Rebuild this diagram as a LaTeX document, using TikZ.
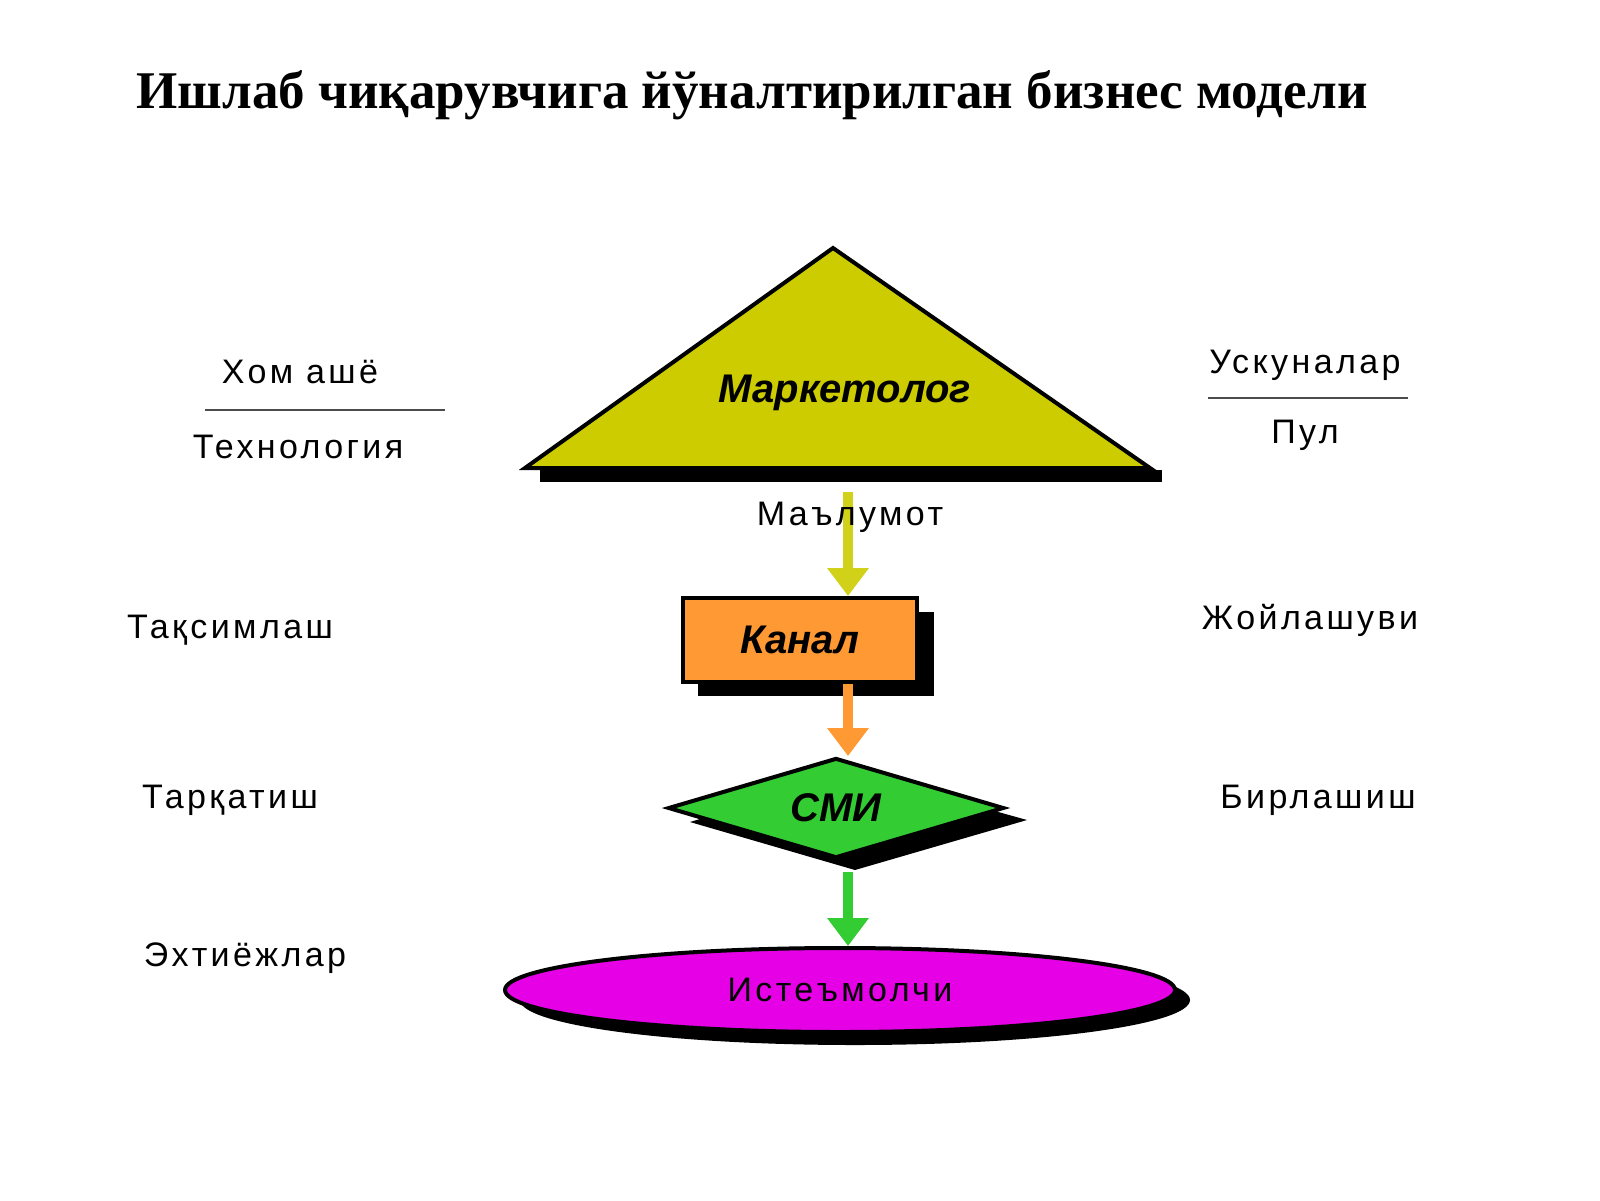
\documentclass[tikz,border=0pt]{standalone}
\usepackage{fontspec}
\setmainfont{Liberation Serif}
\setsansfont{Liberation Sans}
\usetikzlibrary{shapes.geometric,arrows.meta}
\definecolor{olive}{RGB}{204,204,0}
\definecolor{orng}{RGB}{255,153,51}
\definecolor{grn}{RGB}{51,204,51}
\definecolor{mgnt}{RGB}{230,0,230}
\tikzstyle{sidetext} = [font=\sffamily\fontsize{17}{19}\selectfont\addfontfeature{LetterSpace=10}]
\tikzstyle{boxtext} = [font=\sffamily\bfseries\itshape\fontsize{20}{22}\selectfont]
\tikzstyle{flow} = [line width=5pt, -{Triangle[length=14pt,width=20pt]}]

\begin{document}
\begin{tikzpicture}[x=0.5pt,y=-0.5pt]
        \useasboundingbox (0,0) rectangle (1600,1200);
        \node (title) at (752,95) {\bfseries\fontsize{26.5}{30}\selectfont Ишлаб чиқарувчига йўналтирилган бизнес модели};
        % Marketolog triangle
        \fill (540,470) -- (1162,470) -- (1162,482) -- (540,482) -- cycle;
        \draw[line width=2pt, fill=olive] (833,248) -- (1150,468) -- (525,468) -- cycle;
        \node (mark) at (845,393) [boxtext] {Маркетолог};
        \coordinate (tribase) at (848,492);
        % side labels
        \node (xom) at (300,372) [sidetext] {Хом ашё};
        \draw[line width=1pt, gray!60!black] (205,410) -- (445,410);
        \node (tech) at (298,447) [sidetext] {Технология};
        \node (usk) at (1305,365) [sidetext] {Ускуналар};
        \draw[line width=1pt, gray!60!black] (1208,398) -- (1408,398);
        \node (pul) at (1305,435) [sidetext] {Пул};
        \node (taq) at (230,630) [sidetext] {Тақсимлаш};
        \node (tar) at (230,800) [sidetext] {Тарқатиш};
        \node (ext) at (245,958) [sidetext] {Эхтиёжлар};
        \node (joy) at (1310,620) [sidetext] {Жойлашуви};
        \node (bir) at (1318,800) [sidetext] {Бирлашиш};
        % Kanal
        \fill (698,612) rectangle (934,696);
        \node (kanal) at (800,640) [draw, line width=2pt, fill=orng, minimum width=117pt, minimum height=42pt, boxtext] {Канал};
        % SMI
        \fill (690,822) -- (855,772) -- (1027,820) -- (855,870) -- cycle;
        \node (smi) at (836,808) [draw, line width=2pt, fill=grn, diamond, aspect=3.4, minimum width=168pt, minimum height=50pt, inner sep=0pt, boxtext] {СМИ};
        % Isteemolchi
        \fill (855,1000) ellipse (335 and 45);
        \node (ist) at (840,990) [draw, line width=2pt, fill=mgnt, ellipse, minimum width=335pt, minimum height=42pt, sidetext] {Истеъмолчи};
        % arrows
        \draw[flow, olive!90!white] (tribase) -- (kanal.north -| tribase);
        \node (info) at (850,517) [sidetext] {Маълумот};
        \draw[flow, orng] (kanal.south -| tribase) -- (smi.north -| tribase);
        \draw[flow, grn] ([yshift=-6]smi.south -| tribase) -- (ist.north -| tribase);
\end{tikzpicture}
\end{document}
